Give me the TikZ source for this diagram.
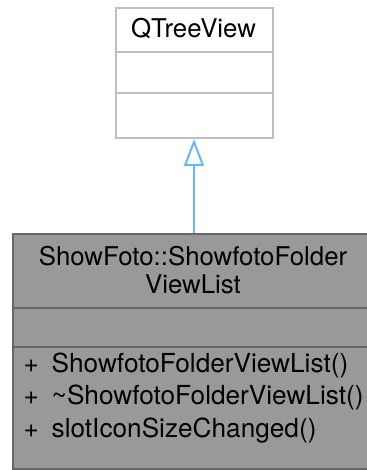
\documentclass[tikz,border=0pt]{standalone}
\usepackage{fontspec}
\setmainfont{TeX Gyre Heros}
\usetikzlibrary{arrows.meta}
\definecolor{boxgray}{HTML}{BFBFBF}
\definecolor{classgray}{HTML}{999999}
\definecolor{classborder}{HTML}{666666}
\definecolor{edgeblue}{HTML}{63B8FF}
\begin{document}
\begin{tikzpicture}[x=1pt,y=-1pt]
\useasboundingbox (0,0) rectangle (366,470);
\tikzset{
  lightbox/.style={draw=boxgray, fill=white, line width=2pt, inner sep=0pt, anchor=north west},
  darkbox/.style={draw=classborder, fill=classgray, line width=2pt, inner sep=0pt, anchor=north west},
  lbl/.style={font=\fontsize{25.8}{28}\selectfont, inner sep=0pt, anchor=base},
  mlbl/.style={font=\fontsize{26.2}{28}\selectfont, inner sep=0pt, anchor=base west},
  lightsep/.style={draw=boxgray, line width=2pt},
  darksep/.style={draw=classborder, line width=2pt},
  inherit/.style={draw=edgeblue, line width=2pt, -{Triangle[open, length=27pt, width=20pt]}},
}
% base class
\node[lightbox, minimum width=157pt, minimum height=130pt] (qtv) at (115,7) {};
\draw[lightsep] (115,52) -- (272,52);
\draw[lightsep] (115,93) -- (272,93);
\node[lbl] (qtvname) at (193.5,38) {QTreeView};
% derived class
\node[darkbox, minimum width=362pt, minimum height=235pt] (sf) at (12,233) {};
\draw[darksep] (12,308) -- (374,308);
\draw[darksep] (12,347) -- (374,347);
\node[lbl] (sfname1) at (193,265) {ShowFoto::ShowfotoFolder};
\node[lbl] (sfname2) at (193,293) {ViewList};
\node[mlbl] (p1) at (23.5,372) {+};
\node[mlbl] (m1) at (51.5,372) {ShowfotoFolderViewList()};
\node[mlbl] (p2) at (23.5,404.5) {+};
\node[mlbl] (m2) at (51.5,404.5) {\textasciitilde ShowfotoFolderViewList()};
\node[mlbl] (p3) at (23.5,437) {+};
\node[mlbl] (m3) at (51.5,437) {slotIconSizeChanged()};
% inheritance
\draw[inherit] (sf.north) -- (sf.north |- qtv.south);
\end{tikzpicture}
\end{document}
